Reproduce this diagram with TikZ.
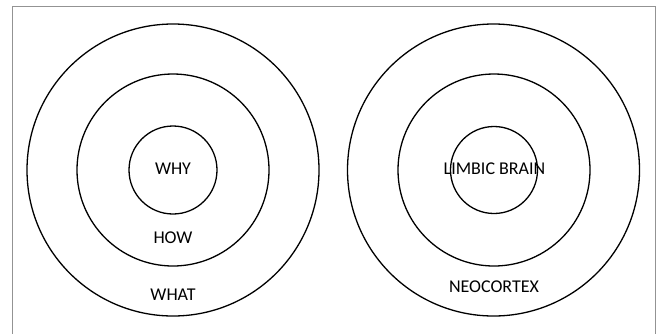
\documentclass[tikz,border=0pt]{standalone}
\usepackage{fontspec}
\setmainfont{Carlito}

\begin{document}
\begin{tikzpicture}[x=1pt, y=-1pt, line width=1.2pt,
  ring/.style={draw=black, line width=1.3pt},
  lbl/.style={anchor=center, inner sep=0pt, font=\fontsize{18}{21}\selectfont}]
  %% frame: left, top and right only, it runs off the lower edge
  \draw[line width=1pt, gray!85] (12,340) -- (12,6) -- (655,6) -- (655,340);

  %% left rings
  \draw[ring] (173,170) circle (146);
  \draw[ring] (173,170) circle (96);
  \draw[ring] (173,170) circle (44);
  %% right rings
  \draw[ring] (493.5,170) circle (146);
  \draw[ring] (494,170) circle (96);
  \draw[ring] (494,170) circle (43.5);

  %% labels
  \node[lbl] (why)   at (173,169)   {WHY};
  \node[lbl] (how)   at (173,238)   {HOW};
  \node[lbl] (what)  at (173,295)   {WHAT};
  \node[lbl] (limb)  at (494.5,169) {LIMBIC BRAIN};
  \node[lbl] (neo)   at (494,287)   {NEOCORTEX};

  % canvas
  \pgfresetboundingbox
  \path[use as bounding box] (0,0) rectangle (660,333);
\end{tikzpicture}
\end{document}
